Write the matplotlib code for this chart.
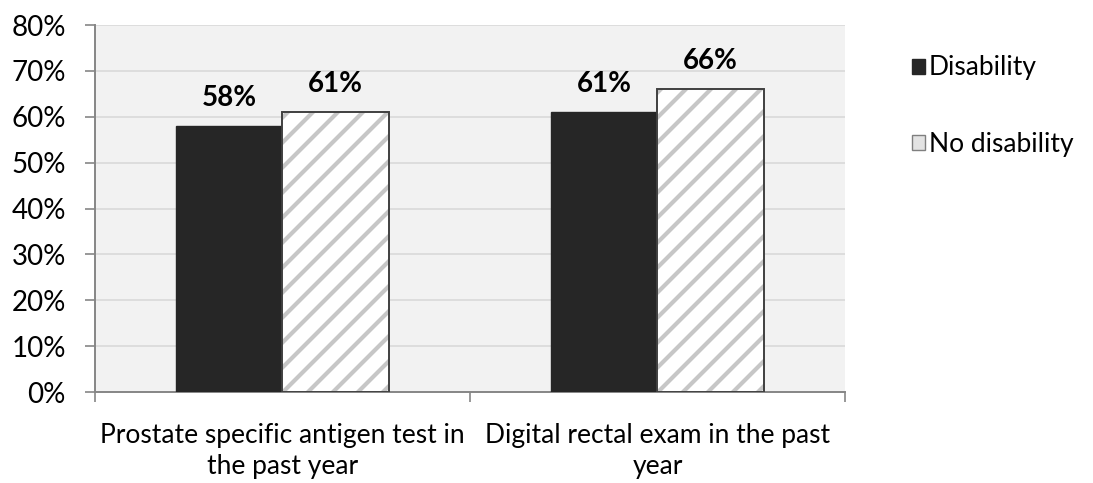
import numpy as np
import matplotlib.pyplot as plt
from matplotlib.ticker import FuncFormatter, FixedLocator
from matplotlib.patches import Patch

categories = ["Prostate specific antigen test in\nthe past year",
              "Digital rectal exam in the past\nyear"]
disability = [58, 61]
no_disability = [61, 66]
yticks = [0, 10, 20, 30, 40, 50, 60, 70, 80]

# render at dpi 150 so the '//' hatch gets a finer stripe spacing;
# all point sizes are scaled by S to keep the 100-dpi look
DPI = 150
S = 100 / DPI

plt.rcParams['font.family'] = ['Lato', 'DejaVu Sans']
plt.rcParams['hatch.linewidth'] = 2.0

fig = plt.figure(figsize=(1093 / DPI, 483 / DPI), dpi=DPI)
ax = fig.add_axes([0.0869, 0.1884, 0.6862, 0.7598])
ax.set_facecolor('#F2F2F2')

x = np.arange(len(categories))
w = 0.284
b1 = ax.bar(x - w / 2, disability, w, color='#262626', edgecolor='#262626',
            linewidth=1 * S, zorder=3)
# hatch fill first (hatch takes the edge colour), then the dark outline on top
ax.bar(x + w / 2, no_disability, w, color='white', edgecolor='#C6C6C6',
       hatch='//', linewidth=0, zorder=3)
b2 = ax.bar(x + w / 2, no_disability, w, fill=False, edgecolor='#404040',
            linewidth=1.4 * S, zorder=4)

for bars in (b1, b2):
    for r in bars:
        ax.annotate(f"{r.get_height():.0f}%", (r.get_x() + r.get_width() / 2, r.get_height()),
                    xytext=(0, 14.5 * S), textcoords='offset points', ha='center', va='baseline',
                    fontsize=20 * S, fontweight='bold')

ax.set_xlim(-0.5, 1.5)
ax.set_ylim(0, 80)
ax.set_yticks(yticks)
ax.yaxis.set_major_formatter(FuncFormatter(lambda v, p: f"{v:.0f}%"))
ax.grid(axis='y', color='#D9D9D9', linewidth=1.2 * S, zorder=0)
ax.set_axisbelow(True)

ax.set_xticks(x)
ax.set_xticklabels(categories, fontsize=19 * S, linespacing=1.3)
ax.xaxis.set_minor_locator(FixedLocator([-0.5, 0.5, 1.5]))
ax.tick_params(axis='x', which='major', length=0, pad=22 * S)
ax.tick_params(axis='x', which='minor', length=7 * S, color='#868686', width=1.2 * S)
ax.tick_params(axis='y', length=7 * S, color='#868686', width=1.2 * S,
               labelsize=20 * S, pad=14 * S)

for s in ('top', 'right'):
    ax.spines[s].set_visible(False)
for s in ('left', 'bottom'):
    ax.spines[s].set_color('#868686')
    ax.spines[s].set_linewidth(1.4 * S)

handles = [Patch(facecolor='#262626', edgecolor='#262626', linewidth=S, label='Disability'),
           Patch(facecolor='#E3E3E3', edgecolor='#7F7F7F', linewidth=S, label='No disability')]
ax.legend(handles=handles, loc='upper left', bbox_to_anchor=(1.089, 0.917), frameon=False,
          fontsize=19 * S, handlelength=0.5, handleheight=0.5, handletextpad=0.15,
          labelspacing=1.95, borderaxespad=0, borderpad=0)

fig.savefig('out.png', dpi=DPI)
